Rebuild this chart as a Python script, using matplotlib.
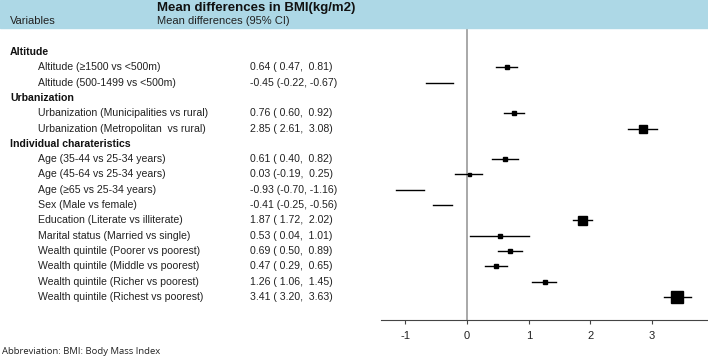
import matplotlib.pyplot as plt
import matplotlib.transforms as mtransforms
from matplotlib.patches import Rectangle

plt.rcParams['font.family'] = ['Liberation Sans', 'DejaVu Sans']
plt.rcParams['axes.unicode_minus'] = False

labels = ['Altitude',
          'Altitude (\u22651500 vs <500m)',
          'Altitude (500-1499 vs <500m)',
          'Urbanization',
          'Urbanization (Municipalities vs rural)',
          'Urbanization (Metropolitan  vs rural)',
          'Individual charateristics',
          'Age (35-44 vs 25-34 years)',
          'Age (45-64 vs 25-34 years)',
          'Age (\u226565 vs 25-34 years)',
          'Sex (Male vs female)',
          'Education (Literate vs illiterate)',
          'Marital status (Married vs single)',
          'Wealth quintile (Poorer vs poorest)',
          'Wealth quintile (Middle vs poorest)',
          'Wealth quintile (Richer vs poorest)',
          'Wealth quintile (Richest vs poorest)']
is_header = [True, False, False, True, False, False, True,
             False, False, False, False, False, False, False, False, False, False]
est = [None, 0.64, -0.45, None, 0.76, 2.85, None,
       0.61, 0.03, -0.93, -0.41, 1.87, 0.53, 0.69, 0.47, 1.26, 3.41]
ci_low = [None, 0.47, -0.22, None, 0.60, 2.61, None,
          0.40, -0.19, -0.70, -0.25, 1.72, 0.04, 0.50, 0.29, 1.06, 3.20]
ci_high = [None, 0.81, -0.67, None, 0.92, 3.08, None,
           0.82, 0.25, -1.16, -0.56, 2.02, 1.01, 0.89, 0.65, 1.45, 3.63]
# box size (weight) in pixels, negative rows drawn without box as in original
box = [0, 4, 0, 0, 4.5, 8.5, 0, 4.2, 3, 0, 0, 9, 3.2, 4.2, 3.4, 4.6, 12]

W, H = 708, 363
fig = plt.figure(figsize=(W / 100, H / 100), dpi=100)

# header band
fig.patches.append(Rectangle((0, 1 - 28 / H), 1, 28 / H, transform=fig.transFigure,
                             color='#add8e6', zorder=0))
fig.text(157 / W, 1 - 7.5 / H, 'Mean differences in BMI(kg/m2)', fontsize=9.5,
         fontweight='bold', va='center', color='#111111')
fig.text(10 / W, 1 - 21 / H, 'Variables', fontsize=8, va='center', color='#222222')
fig.text(157 / W, 1 - 21 / H, 'Mean differences (95% CI)', fontsize=8, va='center',
         color='#222222')

row0, step = 52, 15.3
ax_top, ax_bot = 28, 320
ax = fig.add_axes([380.7 / W, 1 - ax_bot / H, (706.7 - 380.7) / W, (ax_bot - ax_top) / H])
ax.set_xlim(-1.40, 3.885)
ax.set_ylim((ax_bot - row0) / step, (ax_top - row0) / step)

ax.axvline(0, color='#999999', lw=1.2, zorder=1)

for i in range(len(labels)):
    if is_header[i]:
        continue
    ax.plot([ci_low[i], ci_high[i]], [i, i], color='black', lw=1, zorder=2)
    if box[i] > 0:
        ax.plot(est[i], i, marker='s', color='black', ms=box[i] * 0.72, zorder=3)

for s in ['top', 'right', 'left']:
    ax.spines[s].set_visible(False)
ax.spines['bottom'].set_color('#444444')
ax.set_yticks([])
ax.set_xticks([-1, 0, 1, 2, 3])
ax.tick_params(axis='x', direction='out', length=3, color='#444444', labelsize=8,
               labelcolor='#222222', pad=5)

tr = mtransforms.blended_transform_factory(fig.transFigure, ax.transData)
for i, lab in enumerate(labels):
    if is_header[i]:
        ax.text(10 / W, i, lab, transform=tr, fontsize=7.6, fontweight='bold',
                va='center', color='#111111', clip_on=False)
    else:
        ax.text(38 / W, i, lab, transform=tr, fontsize=7.6, va='center',
                color='#222222', clip_on=False)
        ax.text(250 / W, i, '%.2f (%5.2f, %5.2f)' % (est[i], ci_low[i], ci_high[i]),
                transform=tr, fontsize=7.6, va='center', color='#222222', clip_on=False)

fig.text(2 / W, 1 - 351 / H, 'Abbreviation: BMI: Body Mass Index', fontsize=6.8,
         family=['Open Sans', 'DejaVu Sans'], va='center', color='#222222')

fig.savefig('out.png', dpi=100)
